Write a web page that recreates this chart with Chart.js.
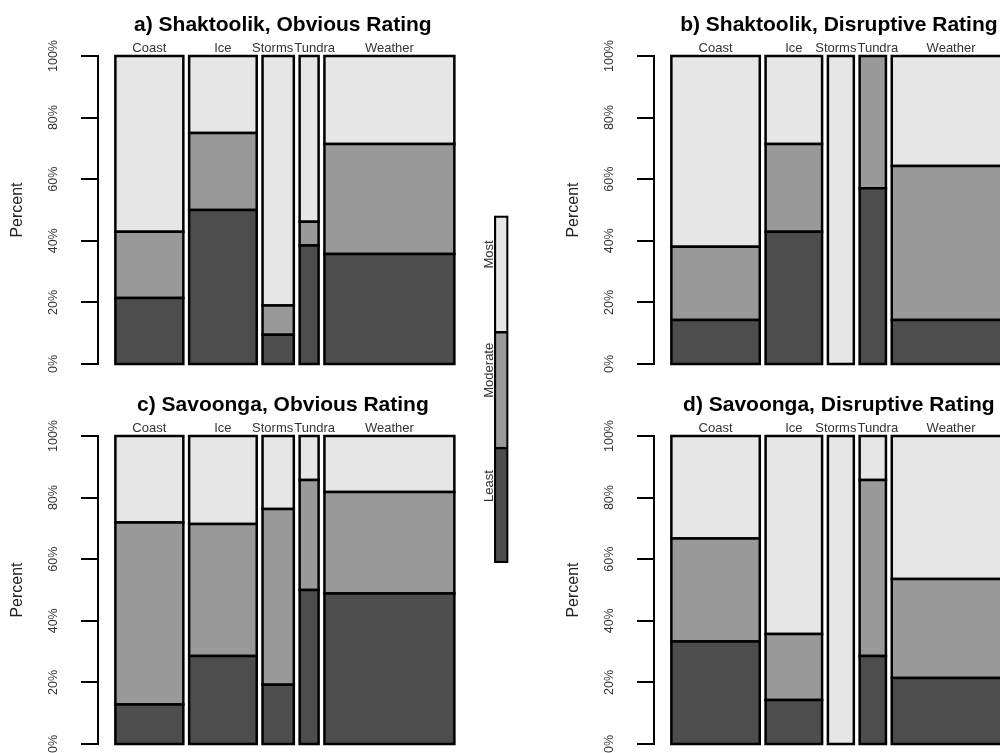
<!DOCTYPE html>
<html>
<head>
<meta charset="utf-8">
<script src="https://cdn.jsdelivr.net/npm/chart.js@4.4.1/dist/chart.umd.min.js"></script>
<style>
  html, body { margin: 0; padding: 0; background: #fff; }
  body { width: 1000px; height: 753px; overflow: hidden; position: relative; }
  canvas { position: absolute; }
</style>
</head>
<body>
<canvas id="panelA" width="556" height="380" style="left:0;top:0"></canvas>
<canvas id="panelB" width="556" height="380" style="left:556px;top:0"></canvas>
<canvas id="panelC" width="556" height="380" style="left:0;top:380px"></canvas>
<canvas id="panelD" width="556" height="380" style="left:556px;top:380px"></canvas>
<canvas id="key" width="100" height="380" style="left:450px;top:200px"></canvas>
<script>
const categories = ['Coast', 'Ice', 'Storms', 'Tundra', 'Weather'];
const ratings = ['Least', 'Moderate', 'Most'];
const yTicks = [0, 20, 40, 60, 80, 100];

// relative strip widths (same for both communities)
const obviousWidths = [68, 67.6, 31.3, 19, 130];
const disruptiveWidths = [88.7, 56.7, 26, 26.4, 119];

// percent of responses in each rating, per category
const shaktoolikObviousLeast = [21.4, 50, 9.5, 38.5, 35.7];
const shaktoolikObviousModerate = [21.5, 25, 9.5, 7.7, 35.7];
const shaktoolikObviousMost = [57.1, 25, 81, 53.8, 28.6];

const shaktoolikDisruptiveLeast = [14.3, 42.9, 0, 57.1, 14.3];
const shaktoolikDisruptiveModerate = [23.8, 28.5, 0, 42.9, 50];
const shaktoolikDisruptiveMost = [61.9, 28.6, 100, 0, 35.7];

const savoongaObviousLeast = [12.8, 28.6, 19.2, 50, 48.9];
const savoongaObviousModerate = [59.1, 42.8, 57.1, 35.7, 32.9];
const savoongaObviousMost = [28.1, 28.6, 23.7, 14.3, 18.2];

const savoongaDisruptiveLeast = [33.3, 14.3, 0, 28.6, 21.4];
const savoongaDisruptiveModerate = [33.4, 21.4, 0, 57.1, 32.2];
const savoongaDisruptiveMost = [33.3, 64.3, 100, 14.3, 46.4];

const keyUnits = [1, 1, 1];

const ratingColours = ['#4d4d4d', '#999999', '#e6e6e6'];
const stripGap = 0.0184;
const leadGap = 0.055;
const tailGap = 0.002;
const fontFamily = "'Liberation Sans', Arial, Helvetica, sans-serif";

Chart.defaults.font.family = fontFamily;

function stripEdges(widths) {
    const total = widths.reduce((a, b) => a + b, 0);
    const edges = [];
    let start = 0;
    widths.forEach(w => {
        edges.push([start, start + w / total]);
        start += w / total + stripGap;
    });
    return edges;
}

const panelLabels = {
    id: 'panelLabels',
    afterDraw(chart, args, opts) {
        const ctx = chart.ctx;
        const x = chart.scales.x;
        const edges = opts.edges;
        ctx.save();

        // title over the strips
        const left = x.getPixelForValue(edges[0][0]);
        const right = x.getPixelForValue(edges[edges.length - 1][1]);
        ctx.font = 'bold 21px ' + fontFamily;
        ctx.fillStyle = '#000';
        ctx.textAlign = 'center';
        ctx.textBaseline = 'alphabetic';
        ctx.fillText(opts.title, (left + right) / 2 - 2, 31);

        // category names, nudged apart where they collide
        ctx.font = '13px ' + fontFamily;
        ctx.fillStyle = '#333';
        const items = categories.map((c, i) => ({
            text: c,
            c: (x.getPixelForValue(edges[i][0]) + x.getPixelForValue(edges[i][1])) / 2,
            w: ctx.measureText(c).width
        }));
        for (let i = 1; i < items.length; i++) {
            const overlap = (items[i - 1].c + items[i - 1].w / 2 + 1) - (items[i].c - items[i].w / 2);
            if (overlap > 0) {
                items[i - 1].c -= overlap / 2;
                items[i].c += overlap / 2;
            }
        }
        items.forEach(it => ctx.fillText(it.text, it.c, 52));
        ctx.restore();
    }
};

function makePanel(id, title, widths, least, moderate, most) {
    const edges = stripEdges(widths);
    const series = [least, moderate, most];
    const datasets = [];
    edges.forEach(([x0, x1], i) => {
        let base = 0;
        series.forEach((vals, r) => {
            const v = vals[i];
            if (v <= 0) return;
            const top = base + v;
            datasets.push({
                label: categories[i] + ' ' + ratings[r],
                data: [
                    {x: x0, y: base}, {x: x1, y: base},
                    {x: x1, y: top}, {x: x0, y: top}, {x: x0, y: base}
                ],
                backgroundColor: ratingColours[r],
                borderColor: '#000',
                borderWidth: 2.5,
                fill: 'shape',
                clip: false
            });
            base = top;
        });
    });

    return new Chart(document.getElementById(id), {
        type: 'line',
        data: {datasets: datasets},
        plugins: [panelLabels],
        options: {
            responsive: false,
            animation: false,
            events: [],
            layout: {padding: {left: 0, top: 56, right: 101, bottom: 16}},
            elements: {
                point: {radius: 0},
                line: {tension: 0, borderCapStyle: 'square', borderJoinStyle: 'miter'}
            },
            scales: {
                x: {
                    type: 'linear',
                    display: false,
                    min: -leadGap,
                    max: 1 + stripGap * (widths.length - 1) + tailGap
                },
                y: {
                    min: 0,
                    max: 100,
                    afterFit: s => {
                        s.width = 98;
                        s.paddingTop = 0;
                        s.paddingBottom = 0;
                    },
                    afterBuildTicks: s => { s.ticks = yTicks.map(v => ({value: v})); },
                    ticks: {
                        autoSkip: false,
                        minRotation: 90,
                        maxRotation: 90,
                        crossAlign: 'center',
                        padding: 11,
                        color: '#333',
                        font: {size: 12.5},
                        callback: v => v + '%'
                    },
                    grid: {
                        drawOnChartArea: false,
                        drawTicks: true,
                        tickLength: 17,
                        color: '#000',
                        lineWidth: 2
                    },
                    border: {display: true, color: '#000', width: 2},
                    title: {
                        display: true,
                        text: 'Percent',
                        color: '#222',
                        font: {size: 16},
                        padding: {top: 8, bottom: 0}
                    }
                }
            },
            plugins: {
                legend: {display: false},
                tooltip: {enabled: false},
                title: {display: false},
                panelLabels: {title: title, edges: edges}
            }
        }
    });
}

makePanel('panelA', 'a) Shaktoolik, Obvious Rating', obviousWidths,
    shaktoolikObviousLeast, shaktoolikObviousModerate, shaktoolikObviousMost);
makePanel('panelB', 'b) Shaktoolik, Disruptive Rating', disruptiveWidths,
    shaktoolikDisruptiveLeast, shaktoolikDisruptiveModerate, shaktoolikDisruptiveMost);
makePanel('panelC', 'c) Savoonga, Obvious Rating', obviousWidths,
    savoongaObviousLeast, savoongaObviousModerate, savoongaObviousMost);
makePanel('panelD', 'd) Savoonga, Disruptive Rating', disruptiveWidths,
    savoongaDisruptiveLeast, savoongaDisruptiveModerate, savoongaDisruptiveMost);

// rating key in the middle
const keyLabels = {
    id: 'keyLabels',
    afterDraw(chart) {
        const ctx = chart.ctx;
        ctx.save();
        ctx.font = '13px ' + fontFamily;
        ctx.fillStyle = '#333';
        ctx.textAlign = 'center';
        ctx.textBaseline = 'alphabetic';
        chart.data.datasets.forEach((ds, i) => {
            const bar = chart.getDatasetMeta(i).data[0];
            const cy = (bar.y + bar.base) / 2 - 19;
            ctx.save();
            ctx.translate(bar.x - bar.width / 2 - 1, cy);
            ctx.rotate(-Math.PI / 2);
            ctx.fillText(ds.label, 0, 0);
            ctx.restore();
        });
        ctx.restore();
    }
};

new Chart(document.getElementById('key'), {
    type: 'bar',
    data: {
        labels: [''],
        datasets: ratings.map((r, i) => ({
            label: r,
            data: [keyUnits[i]],
            backgroundColor: ratingColours[i],
            borderColor: '#000',
            borderWidth: 2.5,
            borderSkipped: i === 0 ? false : 'start',
            categoryPercentage: 1,
            barPercentage: 1
        }))
    },
    plugins: [keyLabels],
    options: {
        responsive: false,
        animation: false,
        events: [],
        layout: {padding: {left: 44, right: 41.5, top: 15.5, bottom: 17}},
        scales: {
            x: {stacked: true, display: false},
            y: {stacked: true, display: false, min: 0, max: 3}
        },
        plugins: {
            legend: {display: false},
            tooltip: {enabled: false}
        }
    }
});
</script>
</body>
</html>
